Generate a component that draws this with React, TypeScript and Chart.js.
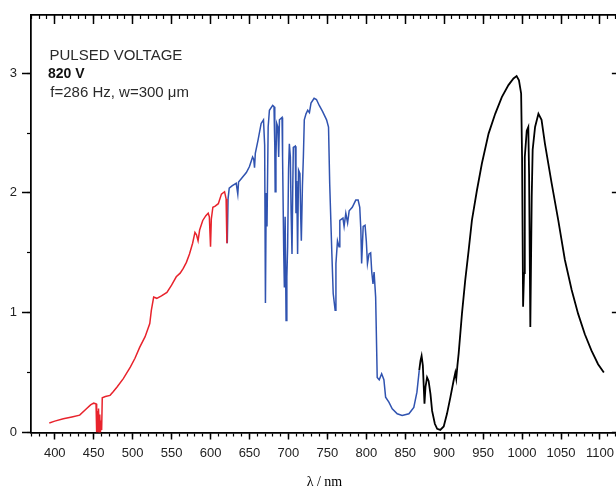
import React, { useEffect, useRef } from "react";
import { Chart, registerables } from "chart.js";

Chart.register(...registerables);

// ---- data ----
const redLambda = [393, 400, 411, 422, 432, 441, 446, 450, 453, 453.8, 454.6, 455.4, 456.2, 457, 457.8, 458.6, 459.4, 460.2, 461, 465, 471, 475, 480, 488, 497, 503, 509, 516, 522, 524, 527, 531, 537, 544, 550, 556, 561, 565, 569, 573, 577, 580, 582, 584, 586, 588, 590, 594, 597, 598.5, 600, 601, 603, 606, 610, 614, 618, 620, 621];
const redValue = [0.08, 0.095, 0.115, 0.13, 0.145, 0.2, 0.23, 0.245, 0.24, 0.0, 0.18, 0.0, 0.2, 0.0, 0.15, 0.0, 0.1, 0.02, 0.29, 0.3, 0.31, 0.34, 0.38, 0.45, 0.545, 0.62, 0.71, 0.8, 0.91, 1.02, 1.13, 1.12, 1.14, 1.17, 1.23, 1.3, 1.33, 1.37, 1.42, 1.49, 1.58, 1.67, 1.65, 1.6, 1.69, 1.73, 1.77, 1.81, 1.83, 1.8, 1.55, 1.78, 1.88, 1.89, 1.91, 1.99, 2.01, 1.95, 1.58];

const blueLambda = [621.5, 622.5, 624, 628, 633, 635, 636, 641, 646, 650, 654, 655.5, 656.5, 657.5, 661, 665, 668, 669.5, 670.5, 671.5, 672.5, 674, 675.6, 679.8, 681.5, 682.5, 683, 684, 685, 686.5, 687.5, 688.5, 691.8, 692.5, 694, 694.8, 695.8, 697, 698, 699, 700.2, 701.2, 702.5, 703.5, 704.6, 705.5, 706.3, 708.8, 709.7, 710.7, 711.8, 713, 714.8, 715.8, 716.6, 718, 719.2, 720.4, 722.6, 724.8, 727, 729, 733, 736, 739.6, 743.8, 749, 751.5, 753, 755.8, 757.5, 760, 761, 763, 765, 766, 770, 771.5, 773.7, 776, 778, 782, 786.5, 789.5, 791.6, 793, 794, 796, 798.4, 800, 801.5, 803.5, 805.6, 807, 808.6, 810, 812, 814, 816.6, 819.7, 822.6, 824.8, 829, 833.3, 839.7, 846, 854.7, 861, 865, 868];
const blueValue = [1.58, 1.95, 2.04, 2.06, 2.08, 1.99, 2.09, 2.13, 2.17, 2.22, 2.3, 2.28, 2.21, 2.33, 2.44, 2.58, 2.61, 2.4, 1.08, 2.0, 1.72, 2.55, 2.69, 2.73, 2.72, 2.4, 2.01, 2.3, 2.58, 2.55, 2.3, 2.61, 2.63, 2.3, 1.5, 1.21, 1.8, 0.935, 1.3, 1.55, 2.2, 2.41, 2.3, 1.83, 1.49, 2.0, 2.38, 2.39, 1.83, 2.1, 1.49, 2.19, 2.16, 1.8, 1.6, 2.06, 2.3, 2.61, 2.66, 2.69, 2.67, 2.75, 2.79, 2.78, 2.73, 2.68, 2.61, 2.55, 2.08, 1.49, 1.16, 1.02, 1.41, 1.6, 1.55, 1.77, 1.79, 1.72, 1.83, 1.75, 1.85, 1.88, 1.94, 1.94, 1.88, 1.69, 1.41, 1.72, 1.73, 1.6, 1.41, 1.49, 1.5, 1.34, 1.24, 1.34, 1.13, 0.46, 0.44, 0.49, 0.44, 0.295, 0.253, 0.198, 0.156, 0.142, 0.156, 0.21, 0.337, 0.52];

const blackLambda = [868, 869.6, 871, 872.6, 874.7, 876, 878, 880, 882.4, 884.5, 888, 891, 895, 899.4, 903.6, 908, 912, 914.3, 915.5, 917, 918.6, 922.8, 927, 931.4, 935.6, 942, 948.4, 957, 965.5, 974, 982.5, 989, 993, 996, 998.8, 1000, 1001.3, 1002.5, 1003.5, 1006, 1008, 1009, 1010.6, 1012.4, 1013.6, 1016.7, 1021, 1025, 1029.4, 1038, 1046.5, 1055, 1063.7, 1072, 1080.6, 1089, 1097.6, 1105];
const blackValue = [0.52, 0.6, 0.64, 0.56, 0.24, 0.38, 0.46, 0.43, 0.32, 0.18, 0.073, 0.031, 0.022, 0.05, 0.156, 0.295, 0.43, 0.5, 0.45, 0.56, 0.66, 0.99, 1.27, 1.52, 1.77, 2.02, 2.245, 2.495, 2.66, 2.8, 2.9, 2.955, 2.975, 2.94, 2.83, 2.3, 1.05, 1.33, 2.3, 2.52, 2.55, 2.16, 0.88, 1.97, 2.36, 2.55, 2.66, 2.61, 2.41, 2.08, 1.77, 1.44, 1.19, 0.99, 0.82, 0.685, 0.57, 0.5];

const X_MIN = 369.5;
const X_MAX = 1123;
const Y_MIN = 0;
const Y_MAX = 3.485;
const X_MAJOR_STEP = 50;
const X_MINOR_STEP = 10;
const Y_MAJOR_STEP = 1;
const Y_MINOR_STEP = 0.5;

const xTitle = "λ / nm";
const noteLines = ["PULSED VOLTAGE", "820 V", "f=286 Hz, w=300 μm"];

const RED = "#e8232c";
const BLUE = "#3053b0";
const BLACK = "#000000";

export default function App() {
  const ref = useRef<HTMLCanvasElement>(null);

  useEffect(() => {
    const pts = (xs: number[], ys: number[]) => xs.map((x, i) => ({ x, y: ys[i] }));
    const setH = (h: number) => (s: any) => { s.height = h; };
    const setW = (w: number) => (s: any) => { s.width = w; };
    const axisBorder = { display: true, color: "#000", width: 1.5 };
    const tickFont = { family: "'Liberation Sans', Arial, sans-serif", size: 13 };

    const chart = new Chart(ref.current as HTMLCanvasElement, {
      type: "line",
      data: {
        datasets: [
          { data: pts(redLambda, redValue), borderColor: RED, borderWidth: 1.5, pointRadius: 0, tension: 0, xAxisID: "x", yAxisID: "y" },
          { data: pts(blueLambda, blueValue), borderColor: BLUE, borderWidth: 1.5, pointRadius: 0, tension: 0, xAxisID: "x", yAxisID: "y" },
          { data: pts(blackLambda, blackValue), borderColor: BLACK, borderWidth: 1.8, pointRadius: 0, tension: 0, xAxisID: "x", yAxisID: "y" },
        ],
      } as any,
      options: {
        animation: false,
        responsive: false,
        events: [],
        layout: { padding: { top: 15, right: 1, left: 0, bottom: 0 } },
        plugins: { legend: { display: false }, tooltip: { enabled: false } },
        scales: {
          x: {
            type: "linear", position: "bottom", min: X_MIN, max: X_MAX, weight: 1,
            grid: { drawOnChartArea: false, tickLength: 7, tickWidth: 1.5, tickColor: "#000" },
            border: axisBorder,
            ticks: { stepSize: X_MAJOR_STEP, autoSkip: false, includeBounds: false, maxRotation: 0, padding: 6, color: "#222", font: tickFont, callback: (v: any) => String(v) },
            title: { display: true, text: xTitle, color: "#000", font: { family: "'Liberation Serif', 'Times New Roman', serif", size: 14 }, padding: { top: 0, bottom: -1 } },
            afterFit: setH(57.5),
          },
          xMinor: {
            type: "linear", position: "bottom", min: X_MIN, max: X_MAX, weight: 0,
            grid: { drawOnChartArea: false, tickLength: 4, tickWidth: 1.2, tickColor: "#000" },
            border: axisBorder,
            ticks: { display: false, stepSize: X_MINOR_STEP, autoSkip: false, includeBounds: false },
            afterFit: setH(0),
          },
          xTop: {
            type: "linear", position: "top", min: X_MIN, max: X_MAX, weight: 0,
            grid: { drawOnChartArea: false, tickLength: -9, tickWidth: 1.5, tickColor: "#000" },
            border: axisBorder,
            ticks: { display: false, stepSize: X_MAJOR_STEP, autoSkip: false, includeBounds: false },
            afterFit: setH(0),
          },
          xTopMinor: {
            type: "linear", position: "top", min: X_MIN, max: X_MAX, weight: 1,
            grid: { drawOnChartArea: false, tickLength: -4, tickWidth: 1.2, tickColor: "#000" },
            border: axisBorder,
            ticks: { display: false, stepSize: X_MINOR_STEP, autoSkip: false, includeBounds: false },
            afterFit: setH(0),
          },
          y: {
            type: "linear", position: "left", min: Y_MIN, max: Y_MAX, weight: 1,
            grid: { drawOnChartArea: false, tickLength: 9, tickWidth: 1.5, tickColor: "#000" },
            border: axisBorder,
            ticks: { stepSize: Y_MAJOR_STEP, autoSkip: false, includeBounds: false, padding: 5, color: "#222", font: tickFont, callback: (v: any) => String(v) },
            afterFit: setW(31),
          },
          yMinor: {
            type: "linear", position: "left", min: Y_MIN, max: Y_MAX, weight: 0,
            grid: { drawOnChartArea: false, tickLength: 4, tickWidth: 1.2, tickColor: "#000" },
            border: axisBorder,
            ticks: { display: false, stepSize: Y_MINOR_STEP, autoSkip: false, includeBounds: false },
            afterFit: setW(0),
          },
          yRight: {
            type: "linear", position: "right", min: Y_MIN, max: Y_MAX, weight: 0,
            grid: { drawOnChartArea: false, tickLength: -6, tickWidth: 1.5, tickColor: "#000" },
            border: axisBorder,
            ticks: { display: false, stepSize: Y_MAJOR_STEP, autoSkip: false, includeBounds: false },
            afterFit: setW(0),
          },
        },
      } as any,
    });
    return () => chart.destroy();
  }, []);

  const note: React.CSSProperties = {
    position: "absolute",
    fontFamily: "'Liberation Sans', Arial, sans-serif",
    color: "#2a2a2a",
    whiteSpace: "nowrap",
    margin: 0,
  };

  return (
    <div style={{ position: "absolute", left: 0, top: 0, width: 616, height: 490, overflow: "hidden", background: "#fff" }}>
      <canvas ref={ref} width={620} height={490} style={{ display: "block", width: 620, height: 490 }} />
      <div style={{ ...note, left: 49.5, top: 46.6, fontSize: 15, lineHeight: "15px" }}>{noteLines[0]}</div>
      <div style={{ ...note, left: 48, top: 65.8, fontSize: 14, lineHeight: "14px", fontWeight: "bold", color: "#111" }}>{noteLines[1]}</div>
      <div style={{ ...note, left: 50.3, top: 84, fontSize: 15, lineHeight: "15px" }}>{noteLines[2]}</div>
    </div>
  );
}
